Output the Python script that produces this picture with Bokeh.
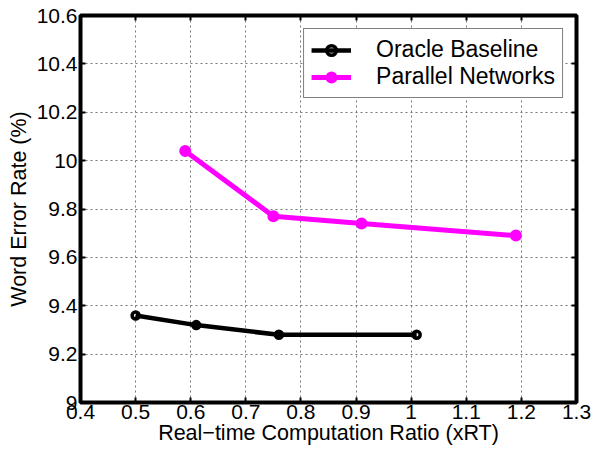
from bokeh.plotting import figure
from bokeh.models import Range1d, FixedTicker, LinearAxis, Legend, LegendItem
from bokeh.embed import file_html
from bokeh.resources import INLINE

# ---- data ----
oracle_x = [0.50, 0.61, 0.76, 1.01]
oracle_y = [9.36, 9.32, 9.28, 9.28]
parallel_x = [0.59, 0.75, 0.91, 1.19]
parallel_y = [10.04, 9.77, 9.74, 9.69]

x_ticks = [0.4, 0.5, 0.6, 0.7, 0.8, 0.9, 1.0, 1.1, 1.2, 1.3]
x_tick_labels = ["0.4", "0.5", "0.6", "0.7", "0.8", "0.9", "1", "1.1", "1.2", "1.3"]
y_ticks = [9.0, 9.2, 9.4, 9.6, 9.8, 10.0, 10.2, 10.4, 10.6]
y_tick_labels = ["9", "9.2", "9.4", "9.6", "9.8", "10", "10.2", "10.4", "10.6"]

series_names = ["Oracle Baseline", "Parallel Networks"]
x_label = "Real\u2212time Computation Ratio (xRT)"
y_label = "Word Error Rate (%)"

FONT = "Liberation Sans"

p = figure(width=598, height=452, output_backend="svg", toolbar_location=None,
           x_range=Range1d(0.4, 1.3), y_range=Range1d(9.0, 10.6),
           min_border_left=80, min_border_right=22, min_border_top=15, min_border_bottom=50)

p.background_fill_color = "white"
p.border_fill_color = "white"
p.outline_line_color = "black"
p.outline_line_width = 4

# axes
for ax, ticks, labels in ((p.xaxis[0], x_ticks, x_tick_labels), (p.yaxis[0], y_ticks, y_tick_labels)):
    ax.ticker = FixedTicker(ticks=ticks)
    ax.major_label_overrides = {t: l for t, l in zip(ticks, labels)}
    ax.major_label_text_font = FONT
    ax.major_label_text_font_size = "21px"
    ax.major_label_text_color = "black"
    ax.major_tick_in = 5
    ax.major_tick_out = 0
    ax.major_tick_line_width = 2
    ax.minor_tick_line_color = None
    ax.axis_line_color = None
    ax.axis_label_text_font = FONT
    ax.axis_label_text_font_size = "21.5px"
    ax.axis_label_text_font_style = "normal"
    ax.axis_label_text_color = "black"

p.xaxis[0].axis_label = x_label
p.yaxis[0].axis_label = y_label
p.xaxis[0].major_label_standoff = 2
p.xaxis[0].axis_label_standoff = -1
p.yaxis[0].major_label_standoff = 3
p.yaxis[0].axis_label_standoff = 3

# box ticks on top/right
top = LinearAxis(ticker=FixedTicker(ticks=x_ticks), major_label_text_font_size="0px",
                 major_tick_in=5, major_tick_out=0, major_tick_line_width=2,
                 minor_tick_line_color=None, axis_line_color=None,
                 major_label_standoff=0, axis_label_standoff=0)
right = LinearAxis(ticker=FixedTicker(ticks=y_ticks), major_label_text_font_size="0px",
                   major_tick_in=5, major_tick_out=0, major_tick_line_width=2,
                   minor_tick_line_color=None, axis_line_color=None,
                   major_label_standoff=0, axis_label_standoff=0)
p.add_layout(top, "above")
p.add_layout(right, "right")

# grid
for g in (p.xgrid[0], p.ygrid[0]):
    g.grid_line_color = "#777777"
    g.grid_line_dash = "2 3"
    g.grid_line_width = 1
p.xgrid[0].ticker = FixedTicker(ticks=x_ticks)
p.ygrid[0].ticker = FixedTicker(ticks=y_ticks)

# series
l1 = p.line(oracle_x, oracle_y, line_color="black", line_width=4.5)
m1 = p.scatter(oracle_x, oracle_y, marker="circle", size=7, line_color="black",
               line_width=3.5, fill_color=None)
l2 = p.line(parallel_x, parallel_y, line_color="#FF00FF", line_width=5)
m2 = p.scatter(parallel_x, parallel_y, marker="circle", size=9.5, line_color="#FF00FF",
               line_width=2.5, fill_color="#FF00FF")

legend = Legend(items=[LegendItem(label=series_names[0], renderers=[l1, m1]),
                       LegendItem(label=series_names[1], renderers=[l2, m2])],
                location="top_right")
legend.margin = 13
legend.border_line_color = "black"
legend.border_line_width = 1.5
legend.background_fill_color = "white"
legend.background_fill_alpha = 1
legend.label_text_font = FONT
legend.label_text_font_size = "23px"
legend.label_text_color = "black"
legend.glyph_width = 40
legend.glyph_height = 24
legend.label_height = 24
legend.label_standoff = 25
legend.spacing = 0
legend.padding = 7
legend.label_text_line_height = 1.0
p.add_layout(legend, "center")

open("out.html", "w").write(file_html(p, INLINE))
